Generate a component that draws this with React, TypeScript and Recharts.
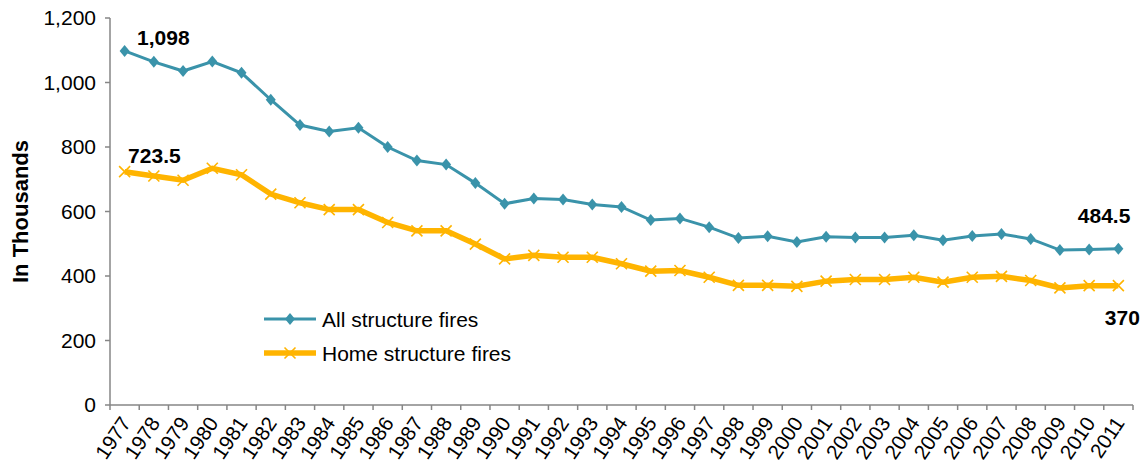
import React from "react";
import { LineChart, Line, XAxis, YAxis, Legend, LabelList } from "recharts";

const years = [
  1977, 1978, 1979, 1980, 1981, 1982, 1983, 1984, 1985, 1986, 1987, 1988,
  1989, 1990, 1991, 1992, 1993, 1994, 1995, 1996, 1997, 1998, 1999, 2000,
  2001, 2002, 2003, 2004, 2005, 2006, 2007, 2008, 2009, 2010, 2011,
];

// in thousands
const allStructureFires = [
  1098, 1064, 1035.5, 1065, 1030, 946.5, 868, 848, 859.5, 800, 758, 745.5,
  688, 624, 640.5, 637.5, 621.5, 614, 573.5, 578.5, 551.5, 517.5, 523, 505.5,
  521.5, 519, 519.5, 526, 511, 524, 530.5, 515, 480.5, 482, 484.5,
];

const homeStructureFires = [
  723.5, 710, 697, 734, 714, 654, 627, 606, 606, 566, 540, 540,
  499, 453, 464, 458, 458, 438, 415, 417, 396, 371, 371, 368,
  384, 389, 389, 396, 381, 396, 399, 386, 363, 370, 370,
];

const yTicks = [0, 200, 400, 600, 800, 1000, 1200];

const TEAL = "#3a93aa";
const GOLD = "#ffb400";
const AXIS = "#868686";
const FONT = "Arial, 'Liberation Sans', sans-serif";

const W = 1147;
const H = 466;
const Y_AXIS_W = 110;
const RIGHT = 14;
const HALF_STEP = (W - Y_AXIS_W - RIGHT) / years.length / 2;

const data = years.map((year, i) => ({
  year,
  all: allStructureFires[i],
  home: homeStructureFires[i],
}));

// tick marks sit between the years, like Excel
const boundaries = [...years.map((y) => y - 0.5), years[years.length - 1] + 0.5];

function Diamond(props: any) {
  const { cx, cy } = props;
  if (cx == null || cy == null) return null;
  return (
    <polygon
      points={`${cx},${cy - 6} ${cx + 5},${cy} ${cx},${cy + 6} ${cx - 5},${cy}`}
      fill={TEAL}
    />
  );
}

function Cross(props: any) {
  const { cx, cy } = props;
  if (cx == null || cy == null) return null;
  return (
    <path
      d={`M${cx - 5.5},${cy - 5.5}L${cx + 5.5},${cy + 5.5}M${cx - 5.5},${cy + 5.5}L${cx + 5.5},${cy - 5.5}`}
      stroke={GOLD}
      strokeWidth={1.6}
      fill="none"
    />
  );
}

function YearTick(props: any) {
  const { x, y, payload } = props;
  const year = payload.value + 0.5;
  if (year > years[years.length - 1]) return null;
  const tx = x + HALF_STEP + 1;
  const ty = y + 7;
  return (
    <text
      x={tx}
      y={ty}
      dy="0.35em"
      textAnchor="end"
      transform={`rotate(-56, ${tx}, ${ty})`}
      fontSize={20.5}
      fontFamily={FONT}
      fill="#000"
    >
      {year}
    </text>
  );
}

function YLabel(props: any) {
  const { viewBox } = props;
  const cy = viewBox.y + viewBox.height / 2;
  return (
    <text
      x={20}
      y={cy}
      transform={`rotate(-90, 20, ${cy})`}
      textAnchor="middle"
      dominantBaseline="central"
      fontSize={22}
      fontWeight="bold"
      fontFamily={FONT}
      fill="#000"
    >
      In Thousands
    </text>
  );
}

type EndPos = { dx: number; dy: number; anchor: "start" | "middle" | "end" };

const endLabel = (first: EndPos, last: EndPos) => (props: any) => {
  const { x, y, index, value } = props;
  if (index !== 0 && index !== years.length - 1) return null;
  const p = index === 0 ? first : last;
  return (
    <text
      x={x + p.dx}
      y={y + p.dy}
      textAnchor={p.anchor}
      dominantBaseline="central"
      fontSize={21}
      fontWeight="bold"
      fontFamily={FONT}
      fill="#000"
    >
      {Number(value).toLocaleString("en-US")}
    </text>
  );
};

function LegendBox(props: any) {
  const items = props.payload || [];
  return (
    <svg width={340} height={70} style={{ display: "block" }}>
      {items.map((item: any, i: number) => {
        const cy = 14 + i * 34;
        const isAll = item.dataKey === "all";
        return (
          <g key={item.value}>
            <line
              x1={0}
              x2={52}
              y1={cy}
              y2={cy}
              stroke={item.color}
              strokeWidth={isAll ? 3 : 5.5}
            />
            {isAll ? <Diamond cx={26} cy={cy} /> : <Cross cx={26} cy={cy} />}
            <text
              x={58}
              y={cy}
              dominantBaseline="central"
              fontSize={21}
              fontFamily={FONT}
              fill="#000"
            >
              {item.value}
            </text>
          </g>
        );
      })}
    </svg>
  );
}

export default function App() {
  return (
    <div style={{ position: "absolute", left: 0, top: 0, width: W, height: H, background: "#fff" }}>
      <LineChart
        width={W}
        height={H}
        data={data}
        margin={{ top: 18, right: RIGHT, bottom: 0, left: 0 }}
      >
        <XAxis
          dataKey="year"
          type="number"
          domain={[years[0] - 0.5, years[years.length - 1] + 0.5]}
          ticks={boundaries}
          interval={0}
          height={61}
          tick={<YearTick />}
          tickSize={5}
          axisLine={{ stroke: AXIS, strokeWidth: 1.5 }}
          tickLine={{ stroke: AXIS, strokeWidth: 1.5 }}
        />
        <YAxis
          width={Y_AXIS_W}
          domain={[0, 1200]}
          ticks={yTicks}
          interval={0}
          tickSize={5}
          tickMargin={9}
          tickFormatter={(v: number) => v.toLocaleString("en-US")}
          tick={{ fontSize: 21, fill: "#000", fontFamily: FONT }}
          axisLine={{ stroke: AXIS, strokeWidth: 1.5 }}
          tickLine={{ stroke: AXIS, strokeWidth: 1.5 }}
          label={<YLabel />}
        />
        <Legend
          layout="horizontal"
          align="center"
          verticalAlign="middle"
          wrapperStyle={{ left: 264, top: 305, width: 340, height: 70 }}
          content={<LegendBox />}
        />
        <Line
          dataKey="all"
          name="All structure fires"
          stroke={TEAL}
          strokeWidth={3}
          dot={<Diamond />}
          activeDot={false}
          isAnimationActive={false}
        >
          <LabelList
            dataKey="all"
            content={endLabel(
              { dx: 12.5, dy: -13, anchor: "start" },
              { dx: 12, dy: -33, anchor: "end" }
            )}
          />
        </Line>
        <Line
          dataKey="home"
          name="Home structure fires"
          stroke={GOLD}
          strokeWidth={5.5}
          dot={<Cross />}
          activeDot={false}
          isAnimationActive={false}
        >
          <LabelList
            dataKey="home"
            content={endLabel(
              { dx: 3.5, dy: -16, anchor: "start" },
              { dx: 4, dy: 32, anchor: "middle" }
            )}
          />
        </Line>
      </LineChart>
    </div>
  );
}
